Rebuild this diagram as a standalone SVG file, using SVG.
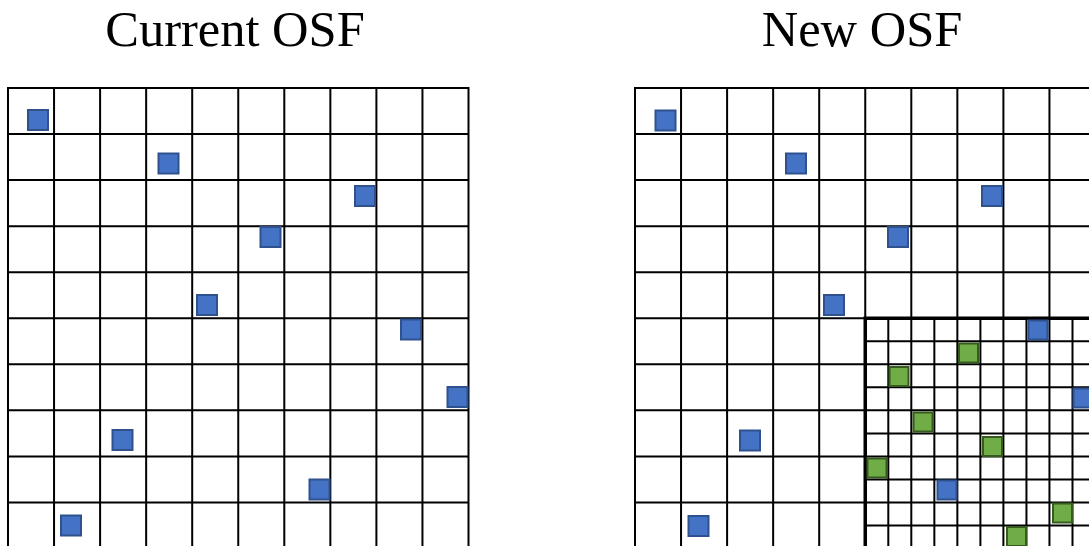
<svg xmlns="http://www.w3.org/2000/svg" width="1089" height="546" viewBox="0 0 1089 546">
<style>
.title{font-family:"Liberation Serif","Times New Roman",serif;font-size:50.5px;fill:#000;text-anchor:middle}
.grid{fill:none;stroke:#000;stroke-width:2}
.thick{fill:none;stroke:#000;stroke-width:3.5}
.b{fill:#4472C4;stroke:#2F528F;stroke-width:2}
.g{fill:#70AD47;stroke:#375B1E;stroke-width:2}
</style>
<rect width="1089" height="546" fill="#fff"/>
<text class="title" x="235" y="46">Current OSF</text>
<text class="title" x="862" y="46">New OSF</text>
<g id="current-grid">
<path class="grid" d="M8,88V546M54.05,88V546M100.1,88V546M146.15,88V546M192.2,88V546M238.25,88V546M284.3,88V546M330.35,88V546M376.4,88V546M422.45,88V546M468.5,88V546
M7,88H469.5M7,134.05H469.5M7,180.1H469.5M7,226.15H469.5M7,272.2H469.5M7,318.25H469.5M7,364.3H469.5M7,410.35H469.5M7,456.4H469.5M7,502.45H469.5"/>
<g id="current-points">
<rect class="b" x="28" y="110" width="20" height="20"/>
<rect class="b" x="158.5" y="153.5" width="20" height="20"/>
<rect class="b" x="355" y="186" width="20" height="20"/>
<rect class="b" x="260.5" y="227" width="20" height="20"/>
<rect class="b" x="197" y="295" width="20" height="20"/>
<rect class="b" x="401" y="319.5" width="20" height="20"/>
<rect class="b" x="447.5" y="387" width="20" height="20"/>
<rect class="b" x="112.5" y="430" width="20" height="20"/>
<rect class="b" x="309.5" y="479.5" width="20" height="20"/>
<rect class="b" x="61" y="515.5" width="20" height="20"/>
</g>
</g>
<g id="new-grid">
<path class="grid" d="M635,88V546M681.05,88V546M727.1,88V546M773.15,88V546M819.2,88V546M865.25,88V318M911.3,88V318M957.35,88V318M1003.4,88V318M1049.45,88V318
M634,88H1089M634,134.05H1089M634,180.1H1089M634,226.15H1089M634,272.2H1089M634,318.25H865M634,364.3H865M634,410.35H865M634,456.4H865M634,502.45H865"/>
<g id="refined-grid">
<path class="grid" d="M888.3,318V546M911.3,318V546M934.35,318V546M957.35,318V546M980.4,318V546M1003.4,318V546M1026.45,318V546M1049.45,318V546M1072.5,318V546
M865,341.3H1089M865,364.3H1089M865,387.35H1089M865,410.35H1089M865,433.4H1089M865,456.4H1089M865,479.45H1089M865,502.45H1089M865,525.5H1089"/>
<path class="thick" d="M865.25,546V318.25H1089"/>
</g>
<g id="new-points">
<rect class="b" x="655.5" y="110.5" width="20" height="20"/>
<rect class="b" x="786" y="153.5" width="20" height="20"/>
<rect class="b" x="982" y="186" width="20" height="20"/>
<rect class="b" x="888" y="227" width="20" height="20"/>
<rect class="b" x="824" y="295" width="20" height="20"/>
<rect class="b" x="740" y="430.5" width="20" height="20"/>
<rect class="b" x="688.5" y="516" width="20" height="20"/>
<rect class="b" x="1028.5" y="320.5" width="19" height="19"/>
<rect class="b" x="1073.5" y="388.5" width="19" height="19"/>
<rect class="b" x="937.5" y="480.5" width="19" height="19"/>
</g>
<g id="added-points">
<rect class="g" x="959" y="343.5" width="19" height="19"/>
<rect class="g" x="889.5" y="367" width="19" height="19"/>
<rect class="g" x="913.5" y="412.5" width="19" height="19"/>
<rect class="g" x="983" y="437" width="19" height="19"/>
<rect class="g" x="867.5" y="458.5" width="19" height="19"/>
<rect class="g" x="1053" y="503.5" width="19" height="19"/>
<rect class="g" x="1007" y="527" width="19" height="19"/>
</g>
</g>
</svg>
